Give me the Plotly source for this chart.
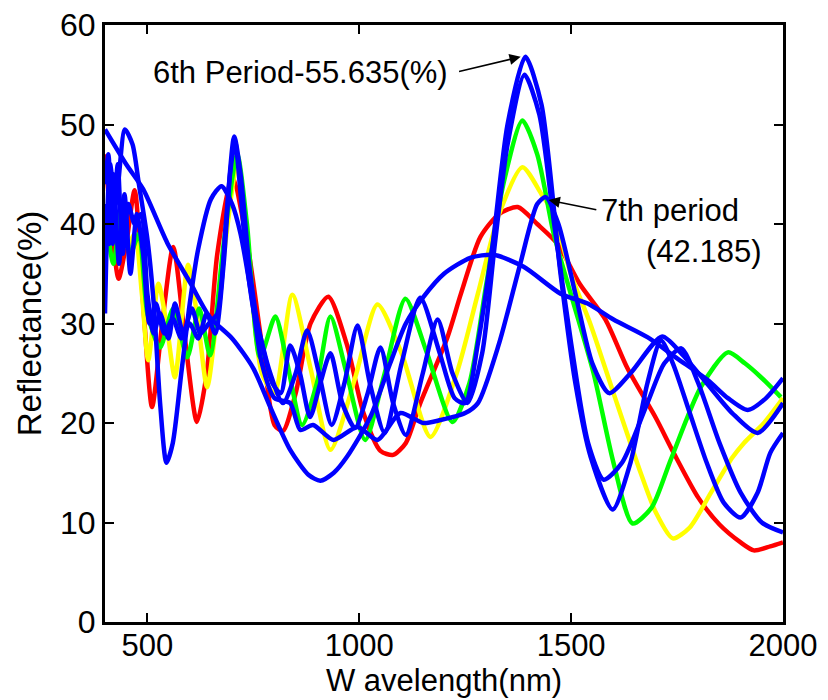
import plotly.graph_objects as go

# wavelength (nm) / reflectance (%)
red_wl = [400, 415, 432, 450, 470, 490, 511, 535, 561, 590, 617, 640, 665, 700, 736, 773, 800, 820,
          850, 885, 927, 970, 1010, 1050, 1080, 1110, 1144, 1208, 1240, 1286, 1330, 1374, 1420, 1468,
          1520, 1581, 1633, 1700, 1742, 1800, 1850, 1900, 1931, 1970, 2000]
red_r = [47, 40, 34.5, 38, 43.4, 32, 21.6, 30, 37.7, 28, 20.1, 25, 37, 44.7, 38, 27, 19.8, 19.2,
         23, 30, 32.7, 28, 21, 17.2, 16.8, 18, 22, 28.6, 33, 38.7, 41, 41.7, 40, 38,
         34, 30.4, 25.5, 20.5, 17, 12.5, 9.8, 8, 7.2, 7.6, 8]

yellow_wl = [400, 415, 430, 452, 470, 487, 502, 526, 545, 565, 596, 620, 641, 670, 712, 740, 770,
             800, 842, 885, 932, 990, 1043, 1100, 1168, 1230, 1280, 1330, 1385, 1430, 1459, 1499,
             1545, 1600, 1664, 1700, 1740, 1780, 1830, 1880, 1908, 1955, 2000]
yellow_r = [42, 38, 41, 37.7, 39, 33, 26.3, 34, 30, 24.6, 35.9, 30, 23.6, 33, 46, 36, 25,
            23, 32.9, 25.5, 17.3, 24.5, 31.9, 27, 18.6, 25, 33, 41, 45.7, 43, 41, 35,
            30, 23, 15, 11, 8.4, 9.5, 13, 16.5, 18, 20, 22.5]

green_wl = [400, 420, 440, 460, 480, 500, 530, 561, 594, 622, 648, 680, 712, 735, 766, 802, 830,
            865, 900, 932, 970, 1014, 1060, 1109, 1160, 1220, 1260, 1300, 1340, 1385, 1420, 1459,
            1499, 1553, 1600, 1645, 1690, 1735, 1806, 1870, 1910, 1948, 1995]
green_r = [41, 36, 42, 37, 39, 31, 27.6, 31.5, 26.6, 31.5, 26.8, 38, 47, 40, 26.6, 30.7, 26,
           19.8, 24, 30.7, 25, 18.3, 25, 32.5, 27, 20.1, 24, 34, 44, 50.4, 47, 39,
           33, 25, 16, 9.9, 11.5, 16.3, 23.6, 27.1, 26, 24.6, 22.6]

# 6th period
blue6_wl = [400, 408, 418, 430, 442, 455, 470, 485, 500, 515, 530, 550, 565, 585, 605, 625, 645,
            665, 685, 705, 720, 740, 760, 790, 820, 850, 877, 905, 935, 965, 996, 1025, 1060,
            1100, 1144, 1190, 1225, 1250, 1280, 1315, 1350, 1392, 1430, 1475, 1510, 1546, 1598,
            1640, 1680, 1712, 1740, 1780, 1820, 1860, 1900, 1940, 1970, 2000]
blue6_r = [44, 47, 38, 46, 37, 42, 40, 41, 33, 29, 31, 28.5, 32, 29, 31.5, 29, 30,
           31, 40, 48.8, 45, 36, 30, 25, 22, 25, 29.3, 25, 19.8, 24, 29.8, 24, 19,
           26, 32.6, 27, 22.5, 22, 28, 38, 50, 56.8, 52, 35, 24, 16.6, 11.3,
           16, 24, 28.3, 26, 21, 16, 12, 10.5, 13, 17, 19]

# 5th period
blue5_wl = [400, 410, 420, 433, 446, 460, 475, 490, 505, 520, 540, 560, 580, 600, 620, 640, 660,
            680, 695, 707, 720, 735, 752, 770, 795, 815, 837, 860, 884, 908, 932, 960, 990, 1020,
            1050, 1080, 1110, 1150, 1185, 1220, 1255, 1290, 1320, 1350, 1390, 1425, 1460, 1500,
            1540, 1577, 1620, 1680, 1720, 1760, 1800, 1850, 1900, 1950, 2000]
blue5_r = [42, 38, 45, 36, 43, 35, 41, 37, 30, 32, 29, 30.5, 28.5, 30, 28.5, 31, 29,
           36, 45, 48.3, 43, 36, 31, 28, 24, 23, 27.8, 25, 20.6, 24, 27, 22, 19.5, 23,
           27.6, 22, 18.8, 25, 30.4, 25, 22, 27, 38, 48, 55, 51, 40, 28,
           18, 14.3, 16, 22, 26, 27.5, 24, 18, 13, 10, 9]

# 7th period
blue7_wl = [400, 412, 425, 447, 465, 480, 500, 515, 530, 545, 560, 580, 600, 620, 650, 675, 700,
            720, 745, 770, 800, 837, 861, 891, 939, 996, 1043, 1097, 1151, 1192, 1250, 1280, 1330,
            1380, 1420, 1440, 1470, 1510, 1550, 1590, 1640, 1715, 1760, 1820, 1880, 1940, 2000]
blue7_r = [31, 46, 42, 49.5, 48, 44, 38.5, 32, 22, 16, 18, 25, 32, 37.5, 42.5, 43.8, 42,
           39, 33, 26, 22.5, 22, 19.3, 19.8, 18.3, 19.6, 18.3, 21, 20, 20.3, 21, 22, 28,
           36, 42, 42.7, 40, 33, 26, 23, 25, 28.7, 27, 24, 21, 19, 22]

# broad single-peak curve
blue1_wl = [400, 450, 490, 547, 601, 648, 700, 750, 790, 837, 880, 908, 940, 971, 1026, 1073,
            1110, 1152, 1200, 1262, 1317, 1388, 1475, 1539, 1600, 1681, 1750, 1823, 1870, 1917,
            1960, 2000]
blue1_r = [49.5, 46, 43.5, 38.1, 34.1, 30.6, 28.5, 25.5, 21.6, 17.3, 14.8, 14.2, 15, 16.6, 20.6, 26,
           30, 32.7, 35, 36.6, 36.9, 35.7, 33, 32, 30.4, 28.6, 26.5, 24.3, 22.5, 21.3,
           22.5, 24.5]

series = [
    (red_wl, red_r, "#ff0000"),
    (yellow_wl, yellow_r, "#ffff00"),
    (green_wl, green_r, "#00ff00"),
    (blue1_wl, blue1_r, "#0000ff"),
    (blue7_wl, blue7_r, "#0000ff"),
    (blue5_wl, blue5_r, "#0000ff"),
    (blue6_wl, blue6_r, "#0000ff"),
]

fig = go.Figure()
for wl, r, color in series:
    fig.add_trace(
        go.Scatter(
            x=wl,
            y=r,
            mode="lines",
            line=dict(color=color, width=4.5, shape="spline", smoothing=0.7),
            showlegend=False,
        )
    )

font_main = "Liberation Sans, Arial, sans-serif"

axis_style = dict(
    showline=True,
    linecolor="black",
    linewidth=3,
    mirror="ticks",
    ticks="inside",
    ticklen=9,
    tickwidth=2,
    tickcolor="black",
    showgrid=False,
    zeroline=False,
    ticklabeloverflow="allow",
)

fig.update_xaxes(
    range=[400, 2000],
    tickvals=[500, 1000, 1500, 2000],
    tickfont=dict(family=font_main, size=31, color="black"),
    ticklabelstandoff=-6,
    **axis_style,
)
fig.update_yaxes(
    range=[0, 60],
    tickvals=[0, 10, 20, 30, 40, 50, 60],
    tickfont=dict(family=font_main, size=32, color="black"),
    **axis_style,
)

# axis titles placed as annotations for exact positioning
fig.add_annotation(x=0.5, y=-0.098, xref="paper", yref="paper", text="W avelength(nm)",
                   showarrow=False, yanchor="middle",
                   font=dict(family=font_main, size=31, color="black"))
fig.add_annotation(x=-0.111, y=0.5, xref="paper", yref="paper", text="Reflectance(%)",
                   showarrow=False, textangle=-90, xanchor="center",
                   font=dict(family=font_main, size=33, color="black"))

# text labels
fig.add_annotation(x=861, y=55.2, text="6th Period-55.635(%)", showarrow=False,
                   font=dict(family=font_main, size=31, color="black"))
fig.add_annotation(x=1733, y=41.4, text="7th period", showarrow=False,
                   font=dict(family=font_main, size=31, color="black"))
fig.add_annotation(x=1813, y=37.2, text="(42.185)", showarrow=False,
                   font=dict(family=font_main, size=31, color="black"))

# arrows
fig.add_annotation(x=1381, y=56.8, ax=1232, ay=55.3, axref="x", ayref="y", text="",
                   showarrow=True, arrowhead=2, arrowsize=1.4, arrowwidth=1.6, arrowcolor="black")
fig.add_annotation(x=1447, y=42.4, ax=1563, ay=41.4, axref="x", ayref="y", text="",
                   showarrow=True, arrowhead=2, arrowsize=1.4, arrowwidth=1.6, arrowcolor="black")

# the page body adds an 8px offset, margins are set to compensate
fig.update_layout(
    width=828,
    height=700,
    margin=dict(l=97, r=53, t=17, b=86, autoexpand=False),
    plot_bgcolor="white",
    paper_bgcolor="white",
)

fig.write_html("out.html")
